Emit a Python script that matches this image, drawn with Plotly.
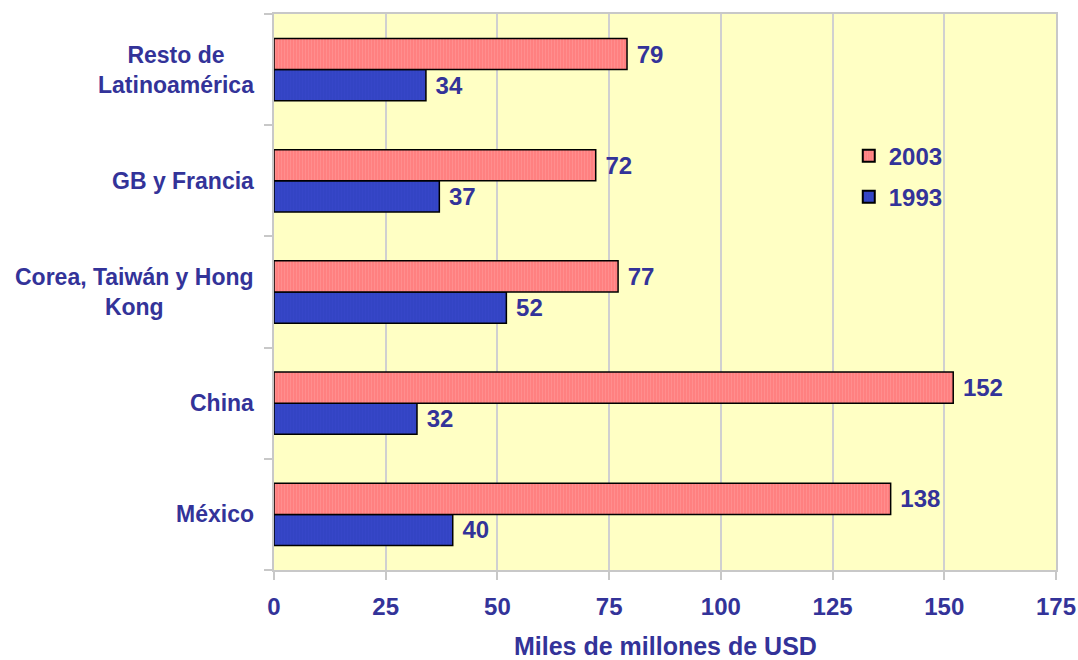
import plotly.graph_objects as go

categories = ["México", "China", "Corea, Taiwán y Hong<br>Kong", "GB y Francia", "Resto de<br>Latinoamérica"]
values_1993 = [40, 32, 52, 37, 34]
values_2003 = [138, 152, 77, 72, 79]
x_ticks = [0, 25, 50, 75, 100, 125, 150, 175]

TEXT = "#333399"
FONT = "Liberation Sans, Arial, sans-serif"

fig = go.Figure()
fig.add_trace(go.Bar(
    y=categories, x=values_1993, name="<b>1993</b>", orientation="h",
    legendgroup="b", legendrank=2,
    marker=dict(color="#3344C4", line=dict(color="black", width=1.5),
                pattern=dict(shape="|", fgcolor="#3A4ACC", size=3, solidity=0.3)),
    texttemplate="&nbsp;<b>%{x}</b>", textposition="outside",
    textfont=dict(family=FONT, size=24, color=TEXT), cliponaxis=False,
))
fig.add_trace(go.Bar(
    y=categories, x=values_2003, name="<b>2003</b>", orientation="h",
    legendgroup="a", legendrank=1,
    marker=dict(color="#FF8080", line=dict(color="black", width=1.5),
                pattern=dict(shape="|", fgcolor="#FF9C9C", size=3, solidity=0.35)),
    texttemplate="&nbsp;<b>%{x}</b>", textposition="outside",
    textfont=dict(family=FONT, size=24, color=TEXT), cliponaxis=False,
))

for c in categories:
    fig.add_annotation(x=0, xref="paper", xanchor="right", xshift=-18,
                       y=c, yref="y", yanchor="middle", align="center",
                       text="<b>" + c + "</b>", showarrow=False,
                       font=dict(family=FONT, size=23, color=TEXT))

fig.add_annotation(x=0.5, xref="paper", xanchor="center", y=0, yref="paper",
                   yanchor="middle", yshift=-76, showarrow=False, borderpad=0,
                   text="<b>Miles de millones de USD</b>",
                   font=dict(family=FONT, size=25, color=TEXT))

fig.update_layout(
    width=1078, height=660,
    margin=dict(l=274, r=22, t=14, b=90),
    paper_bgcolor="white", plot_bgcolor="#FFFFC4",
    barmode="group", bargap=0.44, bargroupgap=0,
    font=dict(family=FONT, size=22, color=TEXT),
    showlegend=True,
    legend=dict(traceorder="grouped", x=0.735, y=0.785, xanchor="left", yanchor="top",
                bgcolor="rgba(0,0,0,0)", font=dict(family=FONT, size=24, color=TEXT),
                itemsizing="constant", tracegroupgap=7),
    xaxis=dict(range=[0, 175], tickvals=x_ticks, ticktext=["<b>%d</b>" % t for t in x_ticks],
               showgrid=True, gridcolor="#D0D0D0", gridwidth=1.5,
               ticks="outside", ticklen=8, tickcolor="#C8C8C8", tickwidth=1.5,
               showline=True, linecolor="#C8C8C8", linewidth=1.5, mirror=True,
               zeroline=False, automargin=False, ticklabelstandoff=6,
               tickfont=dict(family=FONT, size=24, color=TEXT)),
    yaxis=dict(type="category", tickson="boundaries", ticks="outside", ticklen=8,
               tickcolor="#C8C8C8", tickwidth=1.5, showticklabels=False,
               showline=True, linecolor="#C8C8C8", linewidth=1.5, mirror=True,
               showgrid=False, automargin=False),
)
fig.write_html("out.html")
